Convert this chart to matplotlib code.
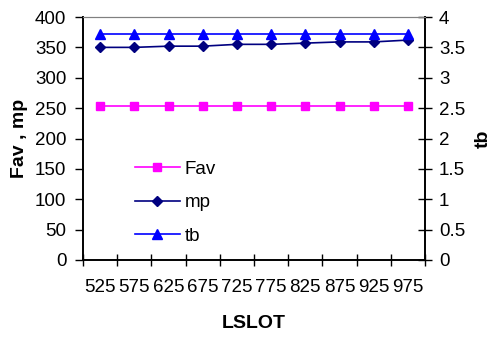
import matplotlib
matplotlib.use("Agg")
import matplotlib.pyplot as plt
import numpy as np

lslot = ["525", "575", "625", "675", "725", "775", "825", "875", "925", "975"]
fav = [253, 253, 253, 253, 253, 253, 253, 253, 253, 253]
mp = [350, 350, 352, 352, 355, 355, 357, 359, 359, 362]
tb = [3.72, 3.72, 3.72, 3.72, 3.72, 3.72, 3.72, 3.72, 3.72, 3.72]

plt.rcParams["font.family"] = ["Liberation Sans", "DejaVu Sans"]
FS = 13.5

fig = plt.figure(figsize=(4.96, 3.37), dpi=100)
ax = fig.add_axes([83 / 496, 1 - 260 / 337, 342 / 496, 243 / 337])
ax2 = ax.twinx()

x = np.arange(len(lslot))
l1, = ax.plot(x, fav, color="#FF00FF", marker="s", markersize=5.8, lw=1.2, label="Fav")
l2, = ax.plot(x, mp, color="#000080", marker="D", markersize=5.5, lw=1.2, label="mp")
l3, = ax2.plot(x, tb, color="#0000FF", marker="^", markersize=7, lw=1.2, label="tb")

ax.set_xlim(-0.5, len(lslot) - 0.5)
ax.set_ylim(0, 400)
ax.set_yticks(np.arange(0, 401, 50))
ax2.set_ylim(0, 4)
ax2.set_yticks(np.arange(0, 4.01, 0.5))
ax2.set_yticklabels(["0", "0.5", "1", "1.5", "2", "2.5", "3", "3.5", "4"])

# category axis: tick marks between categories, labels centred
ax.set_xticks(np.arange(-0.5, len(lslot), 1.0))
ax.set_xticklabels([])
ax.set_xticks(x, minor=True)
ax.set_xticklabels(lslot, minor=True)
ax.tick_params(axis="x", which="major", direction="inout", length=8, width=1)
ax.tick_params(axis="x", which="minor", length=0, pad=14, labelsize=FS)
ax.tick_params(axis="y", direction="out", length=6, width=1, pad=6, labelsize=FS)
ax2.tick_params(axis="y", direction="inout", length=10, width=1, pad=5, labelsize=FS)

for a in (ax, ax2):
    a.spines["top"].set_color("#808080")
    a.spines["left"].set_linewidth(1.2)
    a.spines["right"].set_linewidth(1.2)
    a.spines["bottom"].set_linewidth(1.2)

ax.set_ylabel("Fav , mp", fontsize=14, fontweight="bold", va="center")
ax.yaxis.set_label_coords(-63 / 342, 0.5)
ax2.set_ylabel("tb", fontsize=14, fontweight="bold", rotation=90, va="center")
ax2.yaxis.set_label_coords(1 + 58 / 342, 0.5)
ax.set_xlabel("LSLOT", fontsize=14, fontweight="bold", va="center")
ax.xaxis.set_label_coords(0.5, -64 / 243)

ax.legend(handles=[l1, l2, l3], loc="upper left", bbox_to_anchor=(0.13, 0.44),
          frameon=False, fontsize=FS, handlelength=2.4, labelspacing=0.88,
          handletextpad=0.25, borderaxespad=0)

fig.savefig("out.png", dpi=100)
